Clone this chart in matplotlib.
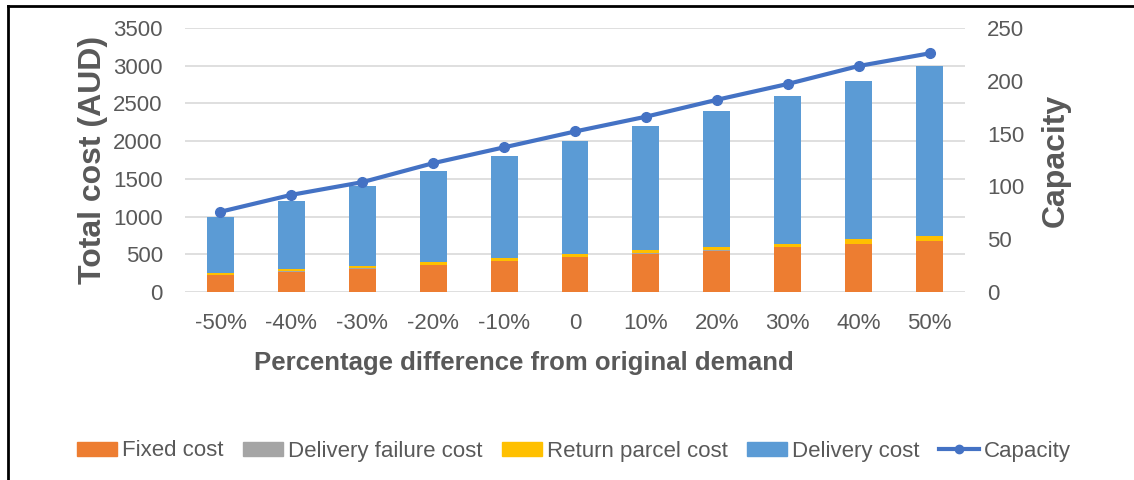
import numpy as np
import matplotlib
matplotlib.use("Agg")
import matplotlib.pyplot as plt
from matplotlib.lines import Line2D

plt.rcParams['font.family'] = ['Liberation Sans', 'DejaVu Sans']

# demand scenarios
categories = ["-50%", "-40%", "-30%", "-20%", "-10%", "0", "10%", "20%", "30%", "40%", "50%"]

# cost components (AUD)
total_cost = [1000, 1200, 1400, 1600, 1800, 2000, 2200, 2400, 2600, 2800, 3000]
fixed_cost = [225, 270, 310, 360, 410, 460, 510, 550, 595, 635, 675]
failure_cost = [2, 2, 2, 2, 2, 2, 2, 2, 2, 2, 2]
return_cost = [30, 35, 35, 35, 40, 40, 45, 45, 45, 60, 60]
delivery_cost = [t - f - d - r for t, f, d, r in
                 zip(total_cost, fixed_cost, failure_cost, return_cost)]

# vehicle capacity
capacity = [76, 92, 104, 122, 137, 152, 166, 182, 197, 214, 226]

c_fixed = "#ED7D31"
c_fail = "#A5A5A5"
c_ret = "#FFC000"
c_del = "#5B9BD5"
c_cap = "#4472C4"
txt = "#595959"

fig = plt.figure(figsize=(11.34, 4.8), dpi=100)
ax = fig.add_axes([185/1134, 188/480, 780/1134, 264/480])

x = np.arange(len(categories))
w = 0.38
b1 = np.array(fixed_cost)
b2 = b1 + np.array(failure_cost)
b3 = b2 + np.array(return_cost)
ax.bar(x, fixed_cost, w, color=c_fixed, zorder=2)
ax.bar(x, failure_cost, w, bottom=b1, color=c_fail, zorder=2)
ax.bar(x, return_cost, w, bottom=b2, color=c_ret, zorder=2)
ax.bar(x, delivery_cost, w, bottom=b3, color=c_del, zorder=2)

ax.set_xlim(-0.5, len(categories) - 0.5)
ax.set_ylim(0, 3500)
ax.set_yticks(range(0, 3501, 500))
ax.set_xticks(x)
ax.set_xticklabels(categories)
ax.yaxis.grid(True, color="#D9D9D9", lw=1.2, zorder=0)
ax.set_axisbelow(True)
for s in ax.spines.values():
    s.set_visible(False)
ax.tick_params(axis="both", length=0, labelsize=16, colors=txt)
ax.tick_params(axis="x", pad=15)
ax.tick_params(axis="y", pad=16)
ax.set_ylabel("Total cost (AUD)", fontsize=23, fontweight="bold", color=txt, labelpad=4)
ax.set_xlabel("Percentage difference from original demand", fontsize=18.5,
              fontweight="bold", color=txt)
ax.xaxis.set_label_coords(0.435, -0.225)

ax2 = ax.twinx()
ax2.plot(x, capacity, color=c_cap, lw=3, marker="o", ms=7, zorder=3)
ax2.set_ylim(0, 250)
ax2.set_yticks(range(0, 251, 50))
for s in ax2.spines.values():
    s.set_visible(False)
ax2.tick_params(axis="y", length=0, labelsize=16, colors=txt, pad=16)
ax2.set_ylabel("Capacity", fontsize=23, fontweight="bold", color=txt, labelpad=12)

handles = [
    plt.Rectangle((0, 0), 1, 1, color=c_fixed),
    plt.Rectangle((0, 0), 1, 1, color=c_fail),
    plt.Rectangle((0, 0), 1, 1, color=c_ret),
    plt.Rectangle((0, 0), 1, 1, color=c_del),
    Line2D([], [], color=c_cap, lw=3, marker="o", ms=6),
]
labels = ["Fixed cost", "Delivery failure cost", "Return parcel cost", "Delivery cost", "Capacity"]
leg = fig.legend(handles, labels, loc="center", bbox_to_anchor=(574/1134, 1 - 451/480),
                 ncol=5, frameon=False, fontsize=16, handlelength=1.8, handleheight=0.6,
                 handletextpad=0.2, columnspacing=0.9)
for t in leg.get_texts():
    t.set_color(txt)

# outer frame (left and top edges)
fig.add_artist(Line2D([8/1134, 8/1134], [0, 1 - 6/480], color="black", lw=2,
                      transform=fig.transFigure))
fig.add_artist(Line2D([8/1134, 1], [1 - 6/480, 1 - 6/480], color="black", lw=2,
                      transform=fig.transFigure))

fig.savefig("out.png", dpi=100)
